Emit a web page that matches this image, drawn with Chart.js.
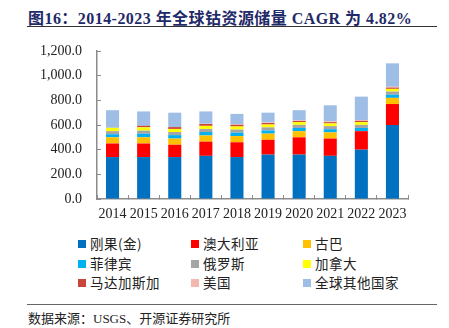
<!DOCTYPE html>
<html>
<head>
<meta charset="utf-8">
<script src="https://cdn.jsdelivr.net/npm/chart.js@4.4.1/dist/chart.umd.min.js"></script>
<style>
  body { margin: 0; background: #fff; width: 449px; height: 328px; position: relative; overflow: hidden; }
  #title { position: absolute; left: 28px; top: 5px; font: bold 16px "Liberation Serif", "Noto Sans CJK SC", serif; color: #1f2a68; white-space: nowrap; letter-spacing: 0.45px; }
  .rule { position: absolute; left: 27px; width: 410px; height: 1px; background: #333; }
  #box { position: absolute; left: 0; top: 0; width: 449px; height: 228px; }
  #legend { position: absolute; left: 0; top: 233px; width: 449px; }
  .li { position: absolute; font: 13.5px "Noto Sans CJK SC", sans-serif; color: #222; white-space: nowrap; letter-spacing: 0.5px; }
  .li i { display: inline-block; width: 8px; height: 8px; margin-right: 4px; vertical-align: 1px; }
  #src { position: absolute; left: 28px; top: 308px; font: 13px "Liberation Serif", "Noto Sans CJK SC", serif; color: #222; white-space: nowrap; }
</style>
</head>
<body>
<div id="title">图16：2014-2023 年全球钴资源储量 CAGR 为 4.82%</div>
<div class="rule" style="top:26px"></div>
<div id="box"><canvas id="c" width="449" height="228"></canvas></div>
<div id="legend"></div>
<div class="rule" style="top:304px; background:#666"></div>
<div id="src">数据来源：USGS、开源证券研究所</div>
<script>
// 万吨
var years = ['2014', '2015', '2016', '2017', '2018', '2019', '2020', '2021', '2022', '2023'];
var congo       = [340, 340, 340, 350, 340, 360, 360, 350, 400, 600];
var australia   = [110, 110, 100, 115, 120, 120, 140, 140, 150, 170];
var cuba        = [50, 50, 50, 50, 50, 50, 50, 50, 0, 50];
var philippines = [25, 29, 28, 28, 28, 26, 26, 26, 26, 26];
var russia      = [25, 25, 25, 25, 25, 25, 25, 25, 25, 25];
var canada      = [27, 27, 25, 25, 25, 23, 22, 22, 22, 22];
var madagascar  = [0, 13, 15, 15, 14, 12, 10, 10, 10, 10];
var usa         = [0, 0, 0, 2, 4, 5, 5, 7, 7, 7];
var others      = [143, 116, 117, 100, 84, 79, 82, 130, 190, 190];

var names  = ['刚果(金)', '澳大利亚', '古巴', '菲律宾', '俄罗斯', '加拿大', '马达加斯加', '美国', '全球其他国家'];
var series = [congo, australia, cuba, philippines, russia, canada, madagascar, usa, others];
var colors = ['#0070c0', '#ff0000', '#ffc000', '#00b0f0', '#a5a5a5', '#ffff00', '#c9463d', '#f2b8b0', '#9fbee6'];

var datasets = names.map(function (n, i) {
  return { label: n, data: series[i], backgroundColor: colors[i], borderWidth: 0,
           barPercentage: 0.42, categoryPercentage: 1 };
});

// legend, 3 columns
var lg = document.getElementById('legend');
var colX = [78, 191, 303];
names.forEach(function (n, i) {
  var d = document.createElement('div');
  d.className = 'li';
  d.style.left = colX[i % 3] + 'px';
  d.style.top = (Math.floor(i / 3) * 19.5) + 'px';
  d.innerHTML = '<i style="background:' + colors[i] + '"></i>' + n;
  lg.appendChild(d);
});

var axisColor = '#8c8c8c';
var tickFont = { family: '"Liberation Serif", serif', size: 14 };

new Chart(document.getElementById('c'), {
  type: 'bar',
  data: { labels: years, datasets: datasets },
  options: {
    responsive: false,
    animation: false,
    devicePixelRatio: 1,
    layout: { padding: { top: 51, right: 41, left: 0, bottom: 0 } },
    plugins: { legend: { display: false }, tooltip: { enabled: false } },
    scales: {
      x: {
        stacked: true,
        grid: { offset: true, drawOnChartArea: false, tickLength: -4, color: axisColor, lineWidth: 1 },
        border: { color: axisColor, width: 1.5 },
        ticks: { color: '#222', font: tickFont, maxRotation: 0, autoSkip: false, padding: 11 },
        afterFit: function (s) { s.height = 29; }
      },
      y: {
        stacked: true,
        min: 0, max: 1200,
        grid: { drawOnChartArea: false, tickLength: -4, color: axisColor, lineWidth: 1 },
        border: { color: axisColor, width: 1.5 },
        ticks: {
          stepSize: 200, color: '#222', font: tickFont, padding: 19,
          callback: function (v) {
            return v.toLocaleString('en-US', { minimumFractionDigits: 1, maximumFractionDigits: 1 });
          }
        },
        afterFit: function (s) { s.width = 97; }
      }
    }
  }
});
</script>
</body>
</html>
